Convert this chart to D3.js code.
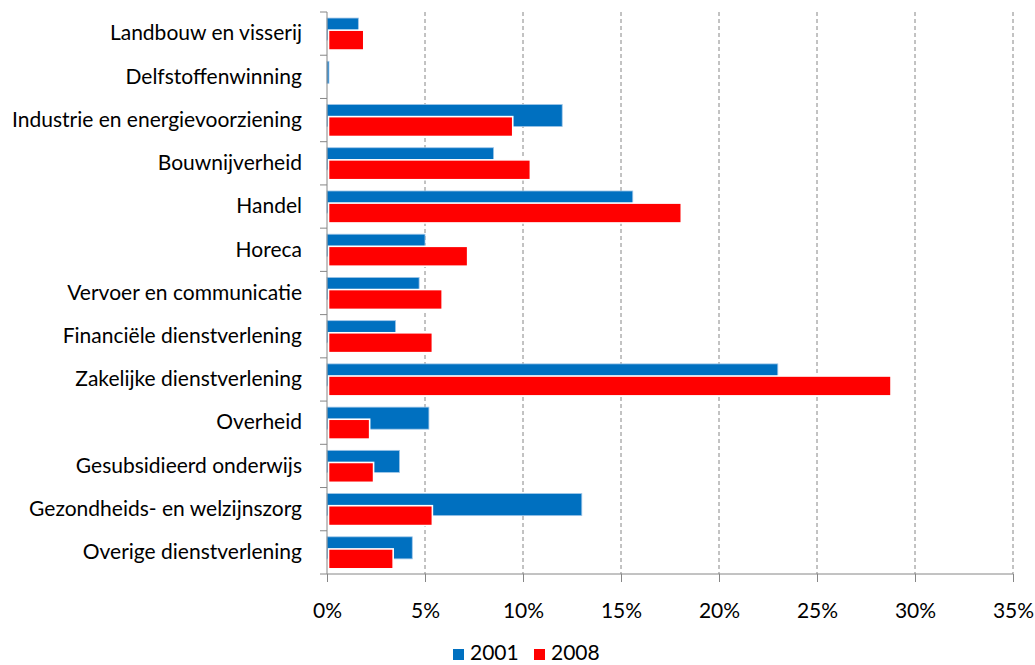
<!DOCTYPE html>
<html>
<head>
<meta charset="utf-8">
<script src="https://cdn.jsdelivr.net/npm/d3@7"></script>
<style>
  body { margin: 0; background: #fff; }
  text { font-family: Lato, "Open Sans", sans-serif; fill: #000; }
</style>
</head>
<body>
<div id="chart"></div>
<script>
// sectors, top to bottom
const categories = [
  "Landbouw en visserij", "Delfstoffenwinning", "Industrie en energievoorziening",
  "Bouwnijverheid", "Handel", "Horeca", "Vervoer en communicatie",
  "Financiële dienstverlening", "Zakelijke dienstverlening", "Overheid",
  "Gesubsidieerd onderwijs", "Gezondheids- en welzijnszorg", "Overige dienstverlening"
];
const values2001 = [1.6, 0.1, 12.0, 8.5, 15.6, 5.0, 4.7, 3.5, 23.0, 5.2, 3.7, 13.0, 4.35];
const values2008 = [1.8, 0.0, 9.4, 10.3, 18.0, 7.1, 5.8, 5.3, 28.7, 2.1, 2.3, 5.3, 3.3];
const xTicks = [0, 5, 10, 15, 20, 25, 30, 35];
const seriesNames = ["2001", "2008"];
const seriesColors = ["#0070C0", "#FF0000"];

const W = 1035, H = 665;
const margin = {top: 12, right: 22, bottom: 91, left: 327};
const width = W - margin.left - margin.right;
const height = H - margin.top - margin.bottom;
const fontSize = 21;

const svg = d3.select("#chart").append("svg")
  .attr("width", W).attr("height", H);
const g = svg.append("g")
  .attr("transform", "translate(" + margin.left + "," + margin.top + ")");

const x = d3.scaleLinear().domain([0, 35]).range([0, width]);
const y = d3.scaleBand().domain(categories).range([0, height]);
const bw = y.bandwidth();

// dashed gridlines
g.selectAll(".grid").data(xTicks.slice(1)).enter().append("line")
  .attr("x1", d => x(d)).attr("x2", d => x(d))
  .attr("y1", 0).attr("y2", height)
  .attr("stroke", "#868686").attr("stroke-width", 1)
  .attr("stroke-dasharray", "4,3");

// 2001 bars (behind)
g.selectAll(".b2001").data(categories).enter().append("rect")
  .attr("x", 0)
  .attr("y", d => y(d) + bw * 0.14)
  .attr("width", (d, i) => x(values2001[i]))
  .attr("height", bw * 0.51)
  .attr("fill", seriesColors[0])
  .attr("stroke", "#9fc6e8").attr("stroke-width", 0.8);

// 2008 bars (front, white outline)
g.selectAll(".b2008").data(categories).enter().append("rect")
  .attr("x", 1.5)
  .attr("y", d => y(d) + bw * 0.42)
  .attr("width", (d, i) => Math.max(0, x(values2008[i])))
  .attr("height", bw * 0.46)
  .attr("fill", seriesColors[1])
  .attr("stroke", (d, i) => values2008[i] > 0 ? "#fff" : "none").attr("stroke-width", 1.6);

// y axis
const yAxis = g.append("g").call(d3.axisLeft(y).tickSize(0).tickPadding(25));
yAxis.select(".domain").remove();
yAxis.selectAll("text").attr("font-size", fontSize).attr("font-family", "Lato, sans-serif");
g.append("line").attr("x1", 0).attr("x2", 0).attr("y1", 0).attr("y2", height)
  .attr("stroke", "#868686");
g.selectAll(".ytick").data(d3.range(categories.length + 1)).enter().append("line")
  .attr("x1", -7).attr("x2", 0)
  .attr("y1", i => i * bw).attr("y2", i => i * bw)
  .attr("stroke", "#868686");

// x axis
const xAxis = g.append("g").attr("transform", "translate(0," + height + ")")
  .call(d3.axisBottom(x).tickValues(xTicks).tickFormat(d => d + "%").tickSize(8).tickPadding(21));
xAxis.select(".domain").attr("stroke", "#868686").attr("d", "M0,0H" + width);
xAxis.selectAll("line").attr("stroke", "#868686");
xAxis.selectAll("text").attr("font-size", fontSize).attr("font-family", "Lato, sans-serif");

// legend
const legend = svg.append("g").attr("transform", "translate(453,660)");
seriesNames.forEach((s, i) => {
  const lg = legend.append("g").attr("transform", "translate(" + (i * 81) + ",0)");
  lg.append("rect").attr("x", 0).attr("y", -11).attr("width", 11).attr("height", 11)
    .attr("fill", seriesColors[i]);
  lg.append("text").attr("x", 17).attr("y", 0)
    .attr("font-size", fontSize).text(s);
});
</script>
</body>
</html>
